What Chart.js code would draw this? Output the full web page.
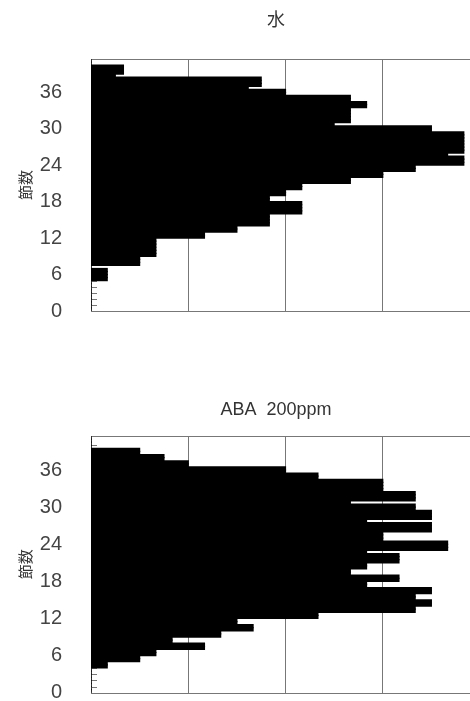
<!DOCTYPE html>
<html>
<head>
<meta charset="utf-8">
<script src="https://cdn.jsdelivr.net/npm/chart.js@4.4.0/dist/chart.umd.min.js"></script>
<style>
  html, body { margin: 0; padding: 0; background: #fff; overflow: hidden; width: 470px; height: 701px; }
  .wrap { position: absolute; left: 0; }
</style>
</head>
<body>
<div class="wrap" style="top:0"><canvas id="waterChart" width="552" height="345"></canvas></div>
<div class="wrap" style="top:350px"><canvas id="abaChart" width="552" height="377"></canvas></div>
<script>
const nodeMax = 41.5;   // top of the node axis
const binStep = 0.5;    // resolution the bars are read at
const yTickStep = 6;
const xGridStep = 6;
const xMax = 24;

// 水 : lower edge of each run of nodes, and the bar length for that run
const waterEdges  = [0, 5, 7, 7.5, 9, 12, 13, 14, 16, 18, 19, 20, 21, 22, 23, 24, 25.5, 26, 29.5, 30.5, 31, 33.5, 34.5, 35.5, 36.5, 37, 38.5, 39, 40.5];
const waterCounts = [0, 1, 0, 3,   4, 7,  9,  11, 13, 11, 12, 13, 16, 18, 20, 23, 22,   23, 21,   15,   16, 17,   16,   12,   9.7,  10.5, 1.5, 2, 0];

// ABA 200ppm
const abaEdges  = [0, 4, 5, 6, 7, 8, 9, 10, 11, 12, 13, 14, 15, 16, 17, 18, 19, 20, 21, 22.5, 23, 24.5, 26, 27.5, 28, 29.5, 30.5, 31, 32.5, 34.5, 35.5, 36.5, 37.5, 38.5, 39.5];
const abaCounts = [0, 1, 3, 4, 7, 5, 8, 10, 9,  14, 20, 21, 20, 21, 17, 19, 16, 17, 19, 17,   22, 18,   21, 17,   21, 20,   16,   20, 18,   14,   12,   6,    4.5,  3,    0];

// spread the runs over bins of binStep so the category axis can hold them
function buildBins(edges, counts) {
    const labels = [];
    const values = [];
    for (let lo = 0; lo < nodeMax; lo += binStep) {
        const mid = lo + binStep / 2;
        let k = 0;
        while (k + 1 < edges.length && edges[k + 1] <= mid) k++;
        labels.push(mid);
        values.push(counts[k]);
    }
    return { labels, values };
}

// frame + small inward ticks at every node (drawn under the bars)
const framePlugin = {
    id: 'frame',
    beforeDatasetsDraw(chart) {
        const { ctx, chartArea: a } = chart;
        const ys = chart.scales.yTicks;
        ctx.save();
        ctx.strokeStyle = '#777';
        ctx.lineWidth = 1;
        ctx.beginPath();
        for (let v = 1; v <= 40; v++) {
            const py = Math.round(ys.getPixelForValue(v)) + 0.5;
            ctx.moveTo(a.left, py);
            ctx.lineTo(a.left + 6, py);
        }
        ctx.stroke();
        ctx.strokeRect(Math.round(a.left) + 0.5, Math.round(a.top) + 0.5,
                       Math.round(a.right - a.left), Math.round(a.bottom - a.top));
        ctx.restore();
    }
};

function makeChart(id, title, bins, titlePad, padBottom) {
    return new Chart(document.getElementById(id), {
        type: 'bar',
        data: {
            labels: bins.labels,
            datasets: [{
                data: bins.values,
                backgroundColor: '#000',
                borderWidth: 0,
                barPercentage: 1,
                categoryPercentage: 1,
                inflateAmount: 0.6
            }]
        },
        options: {
            indexAxis: 'y',
            responsive: false,
            animation: false,
            layout: { padding: { left: 0, right: 0, top: 0, bottom: padBottom } },
            plugins: {
                legend: { display: false },
                tooltip: { enabled: false },
                title: {
                    display: true,
                    text: title,
                    color: '#333',
                    font: { family: '"Liberation Sans", "Noto Sans CJK JP"', size: 18, weight: 'normal' },
                    padding: titlePad
                }
            },
            scales: {
                x: {
                    type: 'linear',
                    min: 0,
                    max: xMax,
                    ticks: { display: false, stepSize: xGridStep },
                    grid: { color: '#777', drawTicks: false },
                    border: { display: false },
                    afterFit: s => { s.height = 0; }
                },
                y: {
                    type: 'category',
                    reverse: true,
                    display: false
                },
                yTicks: {
                    type: 'linear',
                    position: 'left',
                    offset: false,
                    min: 0,
                    max: nodeMax,
                    ticks: {
                        stepSize: yTickStep,
                        includeBounds: false,
                        padding: 21,
                        color: '#444',
                        font: { family: '"Liberation Sans"', size: 20 }
                    },
                    grid: { display: false, offset: false },
                    border: { display: false },
                    title: {
                        display: true,
                        text: '節数',
                        color: '#333',
                        font: { family: '"Noto Sans CJK JP"', size: 15 },
                        padding: { top: 16, bottom: 0 }
                    },
                    afterFit: s => { s.width = 91; }
                },
                // empty right-hand box: keeps the plot cut off at the same place
                // while the centred title sits where the original has it
                ySpacer: {
                    type: 'linear',
                    position: 'right',
                    offset: false,
                    min: 0,
                    max: nodeMax,
                    ticks: { display: false },
                    grid: { display: false, offset: false },
                    border: { display: false },
                    afterFit: s => { s.width = 72; }
                }
            }
        },
        plugins: [framePlugin]
    });
}

makeChart('waterChart', '水', buildBins(waterEdges, waterCounts), { top: 10, bottom: 27.4 }, 34);
makeChart('abaChart', 'ABA  200ppm', buildBins(abaEdges, abaCounts), { top: 49.2, bottom: 15.2 }, 34.3);
</script>
</body>
</html>
